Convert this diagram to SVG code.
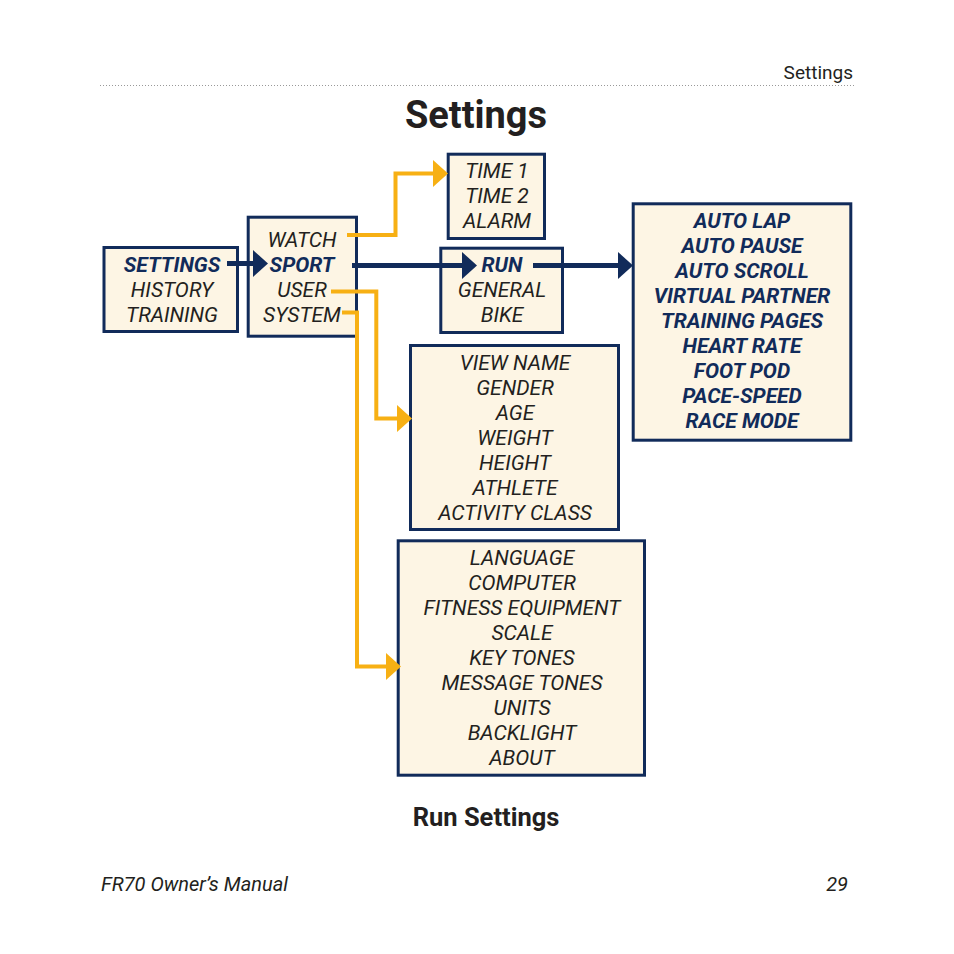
<svg xmlns="http://www.w3.org/2000/svg" width="954" height="954" viewBox="0 0 954 954">
<style>
.box{fill:#fdf5e4;stroke:#112b5a;stroke-width:3}
.t{font-family:Roboto,"Liberation Sans",sans-serif;font-size:21px;font-style:italic;fill:#231f20;text-anchor:middle}
.b{font-weight:bold;fill:#112b5a}
.nv{fill:none;stroke:#112b5a;stroke-width:5}
.or{fill:none;stroke:#f7b014;stroke-width:4}
.hdr{font-family:Roboto,"Liberation Sans",sans-serif;fill:#231f20}
</style>
<defs>
<marker id="an" viewBox="0 0 15 27" markerWidth="15" markerHeight="27" refX="0" refY="13.5" orient="auto" markerUnits="userSpaceOnUse"><path d="M0,0 L15,13.5 L0,27 Z" fill="#112b5a"/></marker>
<marker id="ao" viewBox="0 0 15 27" markerWidth="15" markerHeight="27" refX="0" refY="13.5" orient="auto" markerUnits="userSpaceOnUse"><path d="M0,0 L15,13.5 L0,27 Z" fill="#f7b014"/></marker>
</defs>
<rect width="954" height="954" fill="#fff"/>
<text class="hdr" x="853" y="79" font-size="19" text-anchor="end">Settings</text>
<line x1="100" y1="85.5" x2="854" y2="85.5" stroke="#999" stroke-width="1" stroke-dasharray="1,2"/>
<text class="hdr" x="476" y="128" font-size="38" font-weight="bold" text-anchor="middle">Settings</text>

<g id="n-settings">
<rect class="box" x="104" y="247.5" width="133.5" height="84"/>
<text class="t b" x="172" y="272">SETTINGS</text>
<text class="t" x="172" y="297">HISTORY</text>
<text class="t" x="172" y="322">TRAINING</text>
</g>
<g id="n-main">
<rect class="box" x="248.2" y="217.2" width="108.3" height="119"/>
<text class="t" x="302" y="247">WATCH</text>
<text class="t b" x="302" y="272">SPORT</text>
<text class="t" x="302" y="297">USER</text>
<text class="t" x="302" y="322">SYSTEM</text>
</g>
<g id="n-watch">
<rect class="box" x="448.2" y="154.2" width="96.3" height="84.3"/>
<text class="t" x="497" y="178">TIME 1</text>
<text class="t" x="497" y="203">TIME 2</text>
<text class="t" x="497" y="228">ALARM</text>
</g>
<g id="n-sport">
<rect class="box" x="440.8" y="248.2" width="121.7" height="84.3"/>
<text class="t b" x="502" y="272">RUN</text>
<text class="t" x="502" y="297">GENERAL</text>
<text class="t" x="502" y="322">BIKE</text>
</g>
<g id="n-run">
<rect class="box" x="633.2" y="203.8" width="217.6" height="236.4"/>
<text class="t b" x="742" y="228">AUTO LAP</text>
<text class="t b" x="742" y="253">AUTO PAUSE</text>
<text class="t b" x="742" y="278">AUTO SCROLL</text>
<text class="t b" x="742" y="303">VIRTUAL PARTNER</text>
<text class="t b" x="742" y="328">TRAINING PAGES</text>
<text class="t b" x="742" y="353">HEART RATE</text>
<text class="t b" x="742" y="378">FOOT POD</text>
<text class="t b" x="742" y="403">PACE-SPEED</text>
<text class="t b" x="742" y="428">RACE MODE</text>
</g>
<g id="n-user">
<rect class="box" x="410.5" y="345.5" width="208" height="184"/>
<text class="t" x="515" y="370">VIEW NAME</text>
<text class="t" x="515" y="395">GENDER</text>
<text class="t" x="515" y="420">AGE</text>
<text class="t" x="515" y="445">WEIGHT</text>
<text class="t" x="515" y="470">HEIGHT</text>
<text class="t" x="515" y="495">ATHLETE</text>
<text class="t" x="515" y="520">ACTIVITY CLASS</text>
</g>
<g id="n-system">
<rect class="box" x="398.2" y="540.8" width="246.3" height="234.4"/>
<text class="t" x="522" y="565">LANGUAGE</text>
<text class="t" x="522" y="590">COMPUTER</text>
<text class="t" x="522" y="615">FITNESS EQUIPMENT</text>
<text class="t" x="522" y="640">SCALE</text>
<text class="t" x="522" y="665">KEY TONES</text>
<text class="t" x="522" y="690">MESSAGE TONES</text>
<text class="t" x="522" y="715">UNITS</text>
<text class="t" x="522" y="740">BACKLIGHT</text>
<text class="t" x="522" y="765">ABOUT</text>
</g>

<g id="connectors">
<path class="nv" d="M227,263.5 H253" marker-end="url(#an)"/>
<path class="nv" d="M352,265.5 H462" marker-end="url(#an)"/>
<path class="nv" d="M533,265.5 H618" marker-end="url(#an)"/>
<path class="or" d="M347,235 H395.5 V173.5 H433" marker-end="url(#ao)"/>
<path class="or" d="M331,291.5 H376.3 V418.5 H397" marker-end="url(#ao)"/>
<path class="or" d="M342,312.5 H357 V666.5 H386" marker-end="url(#ao)"/>
</g>

<text class="hdr" x="486" y="826" font-size="25.5" font-weight="bold" text-anchor="middle">Run Settings</text>
<text class="hdr" x="101" y="891" font-size="20" font-style="italic" fill="#858585">FR70 Owner’s Manual</text>
<text class="hdr" x="848" y="891" font-size="20" font-style="italic" fill="#858585" text-anchor="end">29</text>
</svg>
